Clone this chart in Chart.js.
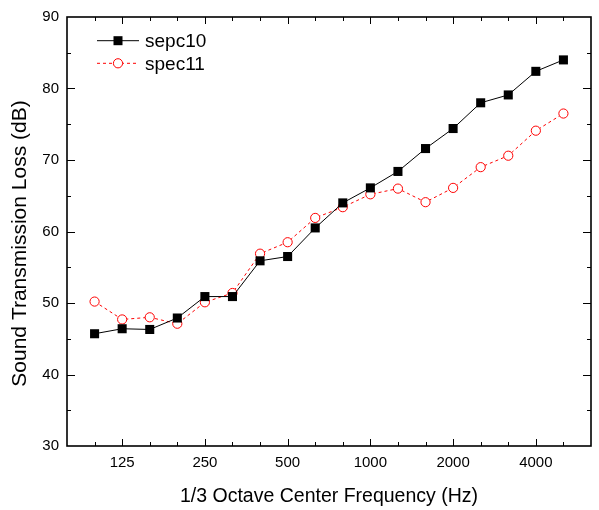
<!DOCTYPE html>
<html>
<head>
<meta charset="utf-8">
<script src="https://cdn.jsdelivr.net/npm/chart.js@4"></script>
<style>
  html, body { margin: 0; padding: 0; background: #fff; }
  #wrap { width: 599px; height: 510px; }
</style>
</head>
<body>
<div id="wrap"><canvas id="c" width="599" height="510"></canvas></div>
<script>
// 1/3 octave bands (index positions on the x axis)
const frequencies = ['100','125','160','200','250','315','400','500','630','800','1000','1250','1600','2000','2500','3150','4000','5000'];
const tickLabels = ['125','250','500','1000','2000','4000'];
const sepc10 = [45.7,46.4,46.3,47.9,50.9,50.9,55.9,56.5,60.5,64.0,66.1,68.4,71.6,74.4,78.0,79.1,82.4,84.0];
const spec11 = [50.2,47.7,48.0,47.1,50.1,51.4,56.9,58.5,61.9,63.4,65.2,66.0,64.1,66.1,69.0,70.6,74.1,76.5];
const seriesNames = ['sepc10','spec11'];
const yTitle = 'Sound Transmission Loss (dB)';
const xTitle = '1/3 Octave Center Frequency (Hz)';

const FONT = 'Arial, "Liberation Sans", sans-serif';

const toPoints = arr => arr.map((v, i) => ({x: i, y: v}));

const framePlugin = {
  id: 'frame',
  afterDatasetsDraw(chart) {
    const {ctx, chartArea: a, scales: {x, y}} = chart;
    ctx.save();
    ctx.strokeStyle = '#000';
    ctx.lineWidth = 1;
    ctx.beginPath();
    for (let i = 0; i < frequencies.length; i++) {
      const px = Math.round(x.getPixelForValue(i)) + 0.5;
      const len = tickLabels.includes(frequencies[i]) ? 7 : 4;
      ctx.moveTo(px, a.bottom); ctx.lineTo(px, a.bottom - len);
      ctx.moveTo(px, a.top); ctx.lineTo(px, a.top + len);
    }
    for (let v = 35; v < 90; v += 5) {
      const py = Math.round(y.getPixelForValue(v)) + 0.5;
      const len = (v % 10 === 0) ? 8 : 4;
      ctx.moveTo(a.left, py); ctx.lineTo(a.left + len, py);
      ctx.moveTo(a.right, py); ctx.lineTo(a.right - len, py);
    }
    ctx.stroke();
    ctx.lineWidth = 1.6;
    ctx.strokeRect(a.left, a.top, a.right - a.left, a.bottom - a.top);
    ctx.restore();
  },
  afterDraw(chart) {
    const {ctx, chartArea: a} = chart;
    // y axis title (slightly below axis centre, as in the original)
    ctx.save();
    ctx.translate(20, (a.top + a.bottom) / 2 + 12);
    ctx.rotate(-Math.PI / 2);
    ctx.fillStyle = '#000';
    ctx.font = '21px ' + FONT;
    ctx.textAlign = 'center';
    ctx.textBaseline = 'middle';
    ctx.fillText(yTitle, 0, 0);
    ctx.restore();

    // legend
    const rows = [40.7, 63.3];
    ctx.save();
    chart.data.datasets.forEach((ds, i) => {
      const yy = rows[i];
      ctx.beginPath();
      ctx.strokeStyle = ds.borderColor;
      ctx.lineWidth = ds.borderWidth;
      ctx.setLineDash(ds.borderDash || []);
      ctx.moveTo(97, yy); ctx.lineTo(139, yy);
      ctx.stroke();
      ctx.setLineDash([]);
      if (ds.pointStyle === 'rect') {
        ctx.fillStyle = ds.pointBackgroundColor;
        ctx.fillRect(118 - 4.5, yy - 4.5, 9, 9);
      } else {
        ctx.beginPath();
        ctx.fillStyle = '#fff';
        ctx.strokeStyle = ds.pointBorderColor;
        ctx.lineWidth = 1;
        ctx.arc(118, yy, 4.6, 0, Math.PI * 2);
        ctx.fill(); ctx.stroke();
      }
      ctx.fillStyle = '#000';
      ctx.font = '19px ' + FONT;
      ctx.textBaseline = 'middle';
      ctx.textAlign = 'left';
      ctx.fillText(ds.label, 145, yy + 1);
    });
    ctx.restore();
  }
};

new Chart(document.getElementById('c'), {
  type: 'line',
  data: {
    datasets: [
      {
        label: seriesNames[0],
        data: toPoints(sepc10),
        borderColor: '#000',
        borderWidth: 1,
        pointStyle: 'rect',
        pointRadius: 6.4,
        pointBackgroundColor: '#000',
        pointBorderColor: '#000',
        pointBorderWidth: 0,
        fill: false,
        tension: 0
      },
      {
        label: seriesNames[1],
        data: toPoints(spec11),
        borderColor: '#ff0000',
        borderWidth: 1,
        borderDash: [3, 3],
        pointStyle: 'circle',
        pointRadius: 4.6,
        pointBackgroundColor: '#fff',
        pointBorderColor: '#ff0000',
        pointBorderWidth: 1,
        fill: false,
        tension: 0
      }
    ]
  },
  options: {
    responsive: false,
    animation: false,
    devicePixelRatio: 1,
    layout: { padding: { top: 16, right: 3, left: 0, bottom: 0 } },
    plugins: { legend: { display: false }, tooltip: { enabled: false } },
    scales: {
      x: {
        type: 'linear',
        min: -1,
        max: 18,
        afterFit: s => { s.height = 64; },
        grid: { display: false, drawTicks: false },
        border: { display: false },
        ticks: {
          stepSize: 1,
          autoSkip: false,
          maxRotation: 0,
          padding: 8,
          color: '#000',
          font: { family: FONT, size: 15 },
          callback: v => {
            const f = frequencies[v];
            return (f && tickLabels.includes(f)) ? f : '';
          }
        },
        title: {
          display: true,
          text: xTitle,
          color: '#000',
          font: { family: FONT, size: 19.5 },
          padding: { top: 0, bottom: 1.5 }
        }
      },
      y: {
        min: 30,
        max: 90,
        afterFit: s => { s.width = 67; },
        grid: { display: false, drawTicks: false },
        border: { display: false },
        ticks: {
          stepSize: 10,
          padding: 8,
          color: '#000',
          font: { family: FONT, size: 15 }
        },
        title: { display: false, text: yTitle }
      }
    }
  },
  plugins: [framePlugin]
});
</script>
</body>
</html>
